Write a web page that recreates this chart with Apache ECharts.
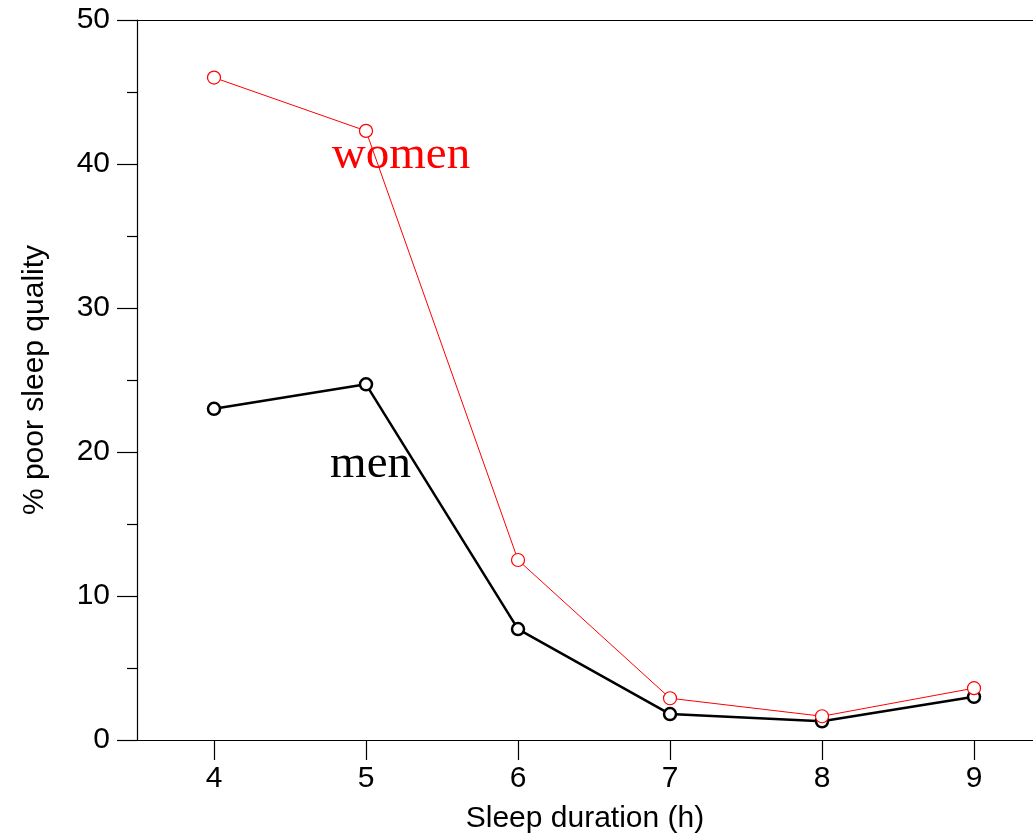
<!DOCTYPE html>
<html><head><meta charset="utf-8">
<script src="https://cdn.jsdelivr.net/npm/echarts@6/dist/echarts.min.js"></script>
<style>html,body{margin:0;padding:0;background:#fff}#c{width:1033px;height:835px}</style>
</head><body><div id="c"></div>
<script>
const sleepHours = [4, 5, 6, 7, 8, 9];
const women = [46.0, 42.3, 12.5, 2.9, 1.65, 3.6];
const men = [23.0, 24.7, 7.7, 1.8, 1.3, 3.0];
const xTicks = [4, 5, 6, 7, 8, 9];
const font = '"Liberation Sans", Arial, sans-serif';
const serif = '"Liberation Serif", "Times New Roman", serif';

const chart = echarts.init(document.getElementById('c'), null, {renderer: 'canvas'});
chart.setOption({
  animation: false,
  backgroundColor: '#fff',
  grid: {left: 137, right: 0, top: 20, bottom: 95, containLabel: false, outerBoundsMode: 'none'},
  xAxis: [{
    type: 'value', min: 3.4934, max: 9.388, position: 'bottom',
    name: 'Sleep duration (h)', nameLocation: 'middle', nameGap: 64,
    nameTextStyle: {fontFamily: font, fontSize: 30, color: '#000'},
    axisLine: {show: true, onZero: false, lineStyle: {color: '#000', width: 1.2}},
    axisTick: {show: true, inside: false, length: 20, customValues: xTicks, lineStyle: {color: '#000', width: 1.2}},
    axisLabel: {show: true, margin: 24, fontFamily: font, fontSize: 30, color: '#000', customValues: xTicks},
    splitLine: {show: false}
  }, {
    type: 'value', min: 3.4934, max: 9.388, position: 'top',
    axisLine: {show: true, onZero: false, lineStyle: {color: '#000', width: 1.2}},
    axisTick: {show: false}, axisLabel: {show: false}, splitLine: {show: false}
  }],
  yAxis: {
    type: 'value', min: 0, max: 50, interval: 10,
    name: '% poor sleep quality', nameLocation: 'middle', nameGap: 87, nameRotate: 90,
    nameTextStyle: {fontFamily: font, fontSize: 30, color: '#000'},
    axisLine: {show: true, onZero: false, lineStyle: {color: '#000', width: 1.2}},
    axisTick: {show: true, inside: false, length: 20, lineStyle: {color: '#000', width: 1.2}},
    minorTick: {show: true, splitNumber: 2, length: 10, lineStyle: {color: '#000', width: 1.2}},
    axisLabel: {margin: 27, fontFamily: font, fontSize: 30, color: '#000'},
    splitLine: {show: false}
  },
  series: [{
    name: 'men', type: 'line',
    data: sleepHours.map((h, i) => [h, men[i]]),
    symbol: 'circle', symbolSize: 12, showSymbol: true,
    lineStyle: {color: '#000', width: 2.5},
    itemStyle: {color: '#fff', borderColor: '#000', borderWidth: 2.5},
    markPoint: {
      symbol: 'circle', symbolSize: 0,
      data: [{coord: [5.03, 19.1], value: 'men'}],
      label: {show: true, formatter: 'men', fontFamily: serif, fontSize: 47, color: '#000', position: 'inside'}
    },
    z: 2
  }, {
    name: 'women', type: 'line',
    data: sleepHours.map((h, i) => [h, women[i]]),
    symbol: 'circle', symbolSize: 13, showSymbol: true,
    lineStyle: {color: '#ff0000', width: 1},
    itemStyle: {color: '#fff', borderColor: '#ff0000', borderWidth: 1.2},
    markPoint: {
      symbol: 'circle', symbolSize: 0,
      data: [{coord: [5.23, 40.6], value: 'women'}],
      label: {show: true, formatter: 'women', fontFamily: serif, fontSize: 47, color: '#ff0000', position: 'inside'}
    },
    z: 3
  }]
});
</script></body></html>
